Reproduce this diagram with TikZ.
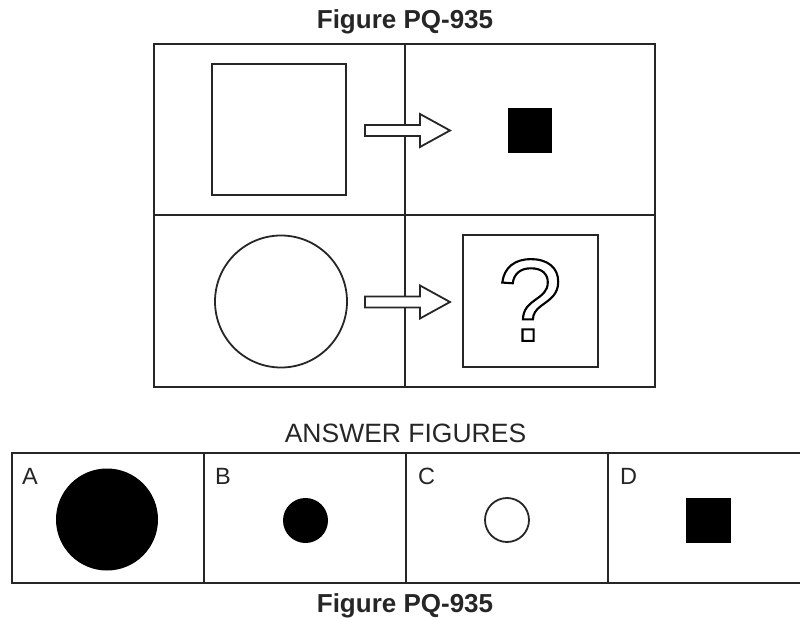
\documentclass[tikz,border=0pt]{standalone}
\usepackage{fontspec}
\setmainfont{Liberation Sans}
\begin{document}
\begin{tikzpicture}[x=1pt,y=-1pt,
  frame/.style={line width=2.2pt,draw=black!85},
  outline/.style={line width=1.8pt,draw=black!85},
  titletext/.style={font=\fontsize{26}{30}\selectfont\bfseries,text=black!85,inner sep=0pt},
  labeltext/.style={font=\fontsize{23.5}{26}\selectfont,text=black!85,inner sep=0pt,anchor=base west},
  outarrow/.style={line width=1.8pt,draw=black!85,fill=white,line join=miter}]
\useasboundingbox (0,0) rectangle (800,620);
% title
\node[titletext,anchor=base] (t1) at (405,29) {Figure PQ-935};
% top grid
\draw[frame] (154,44) rectangle (655,387);
\draw[frame] (405,44) -- (405,387);
\draw[frame] (154,215) -- (655,215);
% row 1
\draw[outline] (212,64) rectangle (346,195);
\fill[black] (508,108) rectangle (552,153);
\draw[outarrow] (365,125) -- (420,125) -- (420,114) -- (450,130.5) -- (420,147) -- (420,136) -- (365,136) -- cycle;
% row 2
\draw[outline] (281,301.5) circle (66);
\draw[outarrow] (365,296.5) -- (420,296.5) -- (420,285.5) -- (450,302) -- (420,318.5) -- (420,307.5) -- (365,307.5) -- cycle;
\draw[outline] (463,235) rectangle (598,367);
\node[inner sep=0pt,font=\fontsize{117}{117}\selectfont] (qm) at (530,300) {\special{pdf:literal direct 1 Tr 2.1 w}?\special{pdf:literal direct 0 Tr}};
% answer figures
\node[font=\fontsize{26.5}{30}\selectfont,text=black!85,inner sep=0pt,anchor=base] (ans) at (405.5,442) {ANSWER FIGURES};
\draw[frame] (800,453) -- (12,453) -- (12,583) -- (800,583);
\draw[frame] (204,453) -- (204,583);
\draw[frame] (406,453) -- (406,583);
\draw[frame] (608,453) -- (608,583);
\node[labeltext] (la) at (22,484) {A};
\node[labeltext] (lb) at (215,484) {B};
\node[labeltext] (lc) at (418,484) {C};
\node[labeltext] (ld) at (620,484) {D};
\fill[black] (107,519.5) circle (51);
\fill[black] (305.5,520.5) circle (22.5);
\draw[outline] (507,520) circle (22);
\fill[black] (686,498) rectangle (731,543);
\node[titletext,anchor=base] (t2) at (405,612) {Figure PQ-935};
\end{tikzpicture}
\end{document}
